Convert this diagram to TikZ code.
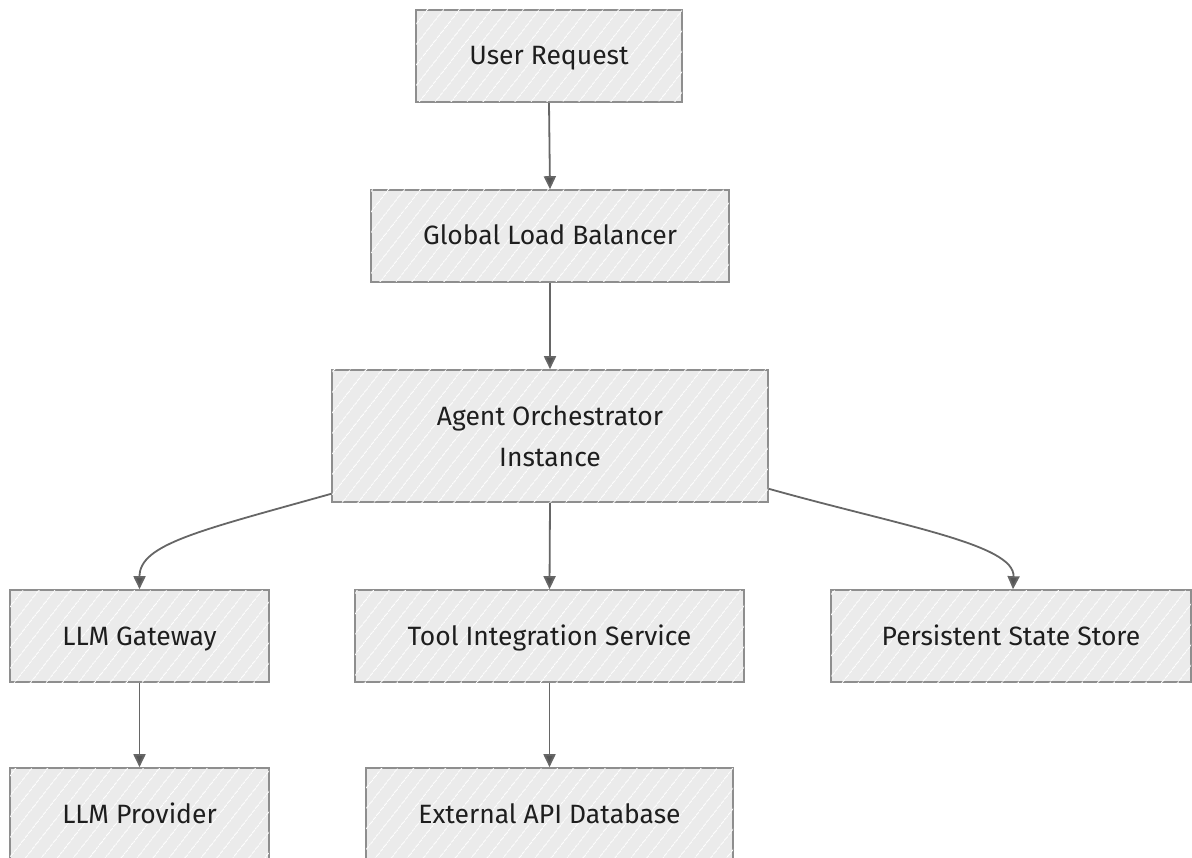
\documentclass[tikz,border=0pt]{standalone}
\usepackage{fontspec}
\setmainfont{Fira Sans}
\usetikzlibrary{arrows.meta,patterns.meta,calc}
\definecolor{boxfill}{HTML}{EBEBEB}
\definecolor{boxline}{HTML}{8E8E8E}
\definecolor{wire}{HTML}{666666}
\definecolor{tip}{HTML}{555555}
\definecolor{ink}{HTML}{1E1E1E}
\tikzset{
  stage/.style={rectangle, draw=boxline, line width=1.6pt, fill=boxfill,
    postaction={pattern={Lines[angle=52,distance=13pt,line width=0.9pt]}, pattern color=white},
    text=ink, align=center, inner sep=0pt,
    text height=22pt, text depth=4pt,
    font=\fontsize{26.5}{39}\selectfont},
  flow/.style={draw=wire, line width=1.8pt,
    -{Triangle[length=13pt,width=12pt,fill=tip]}},
}
\begin{document}
\begin{tikzpicture}[x=1pt,y=-1pt]
\useasboundingbox (0,0) rectangle (1192,858);
% request path
\node[stage, minimum width=266pt, minimum height=92pt] (ur)  at (549,56)  {User Request};
\node[stage, minimum width=358pt, minimum height=92pt] (glb) at (550,236) {Global Load Balancer};
\node[stage, minimum width=436pt, minimum height=132pt, text height=, text depth=] (aoi) at (550,436) {\raisebox{2pt}{Agent Orchestrator}\\Instance};
% services
\node[stage, minimum width=259pt, minimum height=92pt] (gw)  at (139.5,636) {LLM Gateway};
\node[stage, minimum width=389pt, minimum height=92pt] (tis) at (549.5,636) {Tool Integration Service};
\node[stage, minimum width=360pt, minimum height=92pt] (pss) at (1011,636)  {Persistent State Store};
% backends
\node[stage, minimum width=259pt, minimum height=92pt] (prov) at (139.5,814) {LLM Provider};
\node[stage, minimum width=367pt, minimum height=92pt] (ext)  at (549.5,814) {External API Database};
% connectors
\draw[flow] (ur.south) -- (glb.north);
\draw[flow] (glb.south) -- (aoi.north);
\draw[flow] (aoi.south) -- (tis.north);
\draw[flow] ([yshift=9pt]aoi.south west) .. controls +(-132,37) and +(0,-45) .. (gw.north);
\draw[flow] ([yshift=14pt]aoi.south east) .. controls +(132,37) and +(2,-45) .. ([xshift=2pt]pss.north);
\draw[flow] (gw.south) -- (prov.north);
\draw[flow] (tis.south) -- (ext.north);
\end{tikzpicture}
\end{document}
